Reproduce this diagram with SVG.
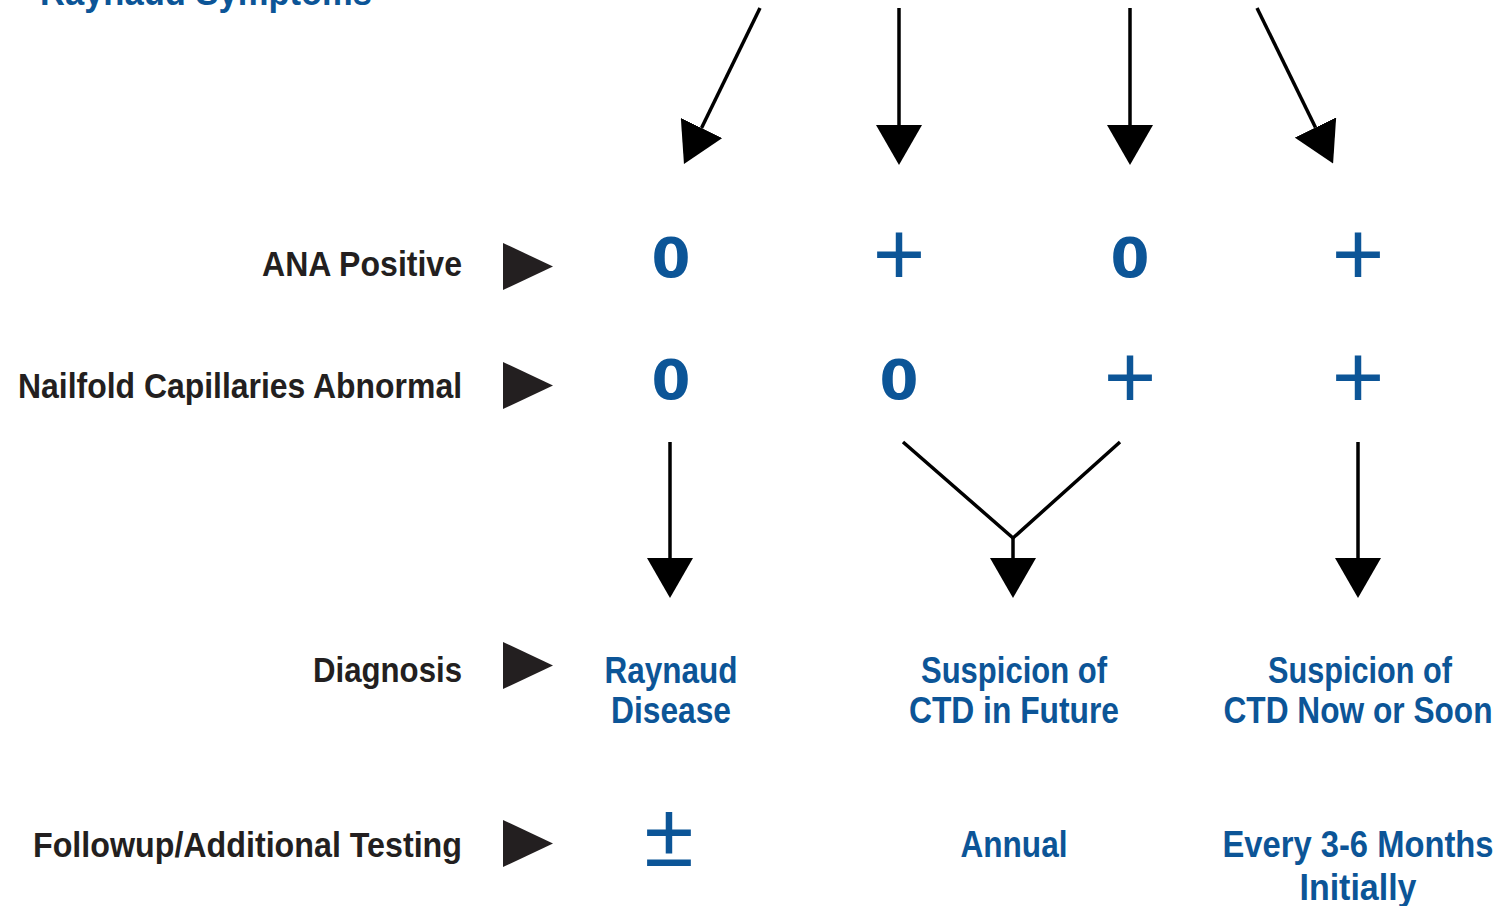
<svg xmlns="http://www.w3.org/2000/svg" width="1501" height="906" viewBox="0 0 1501 906">
<style>
.lbl{font-family:"Liberation Sans",Arial,sans-serif;font-weight:bold;font-size:35px;fill:#231f20;text-anchor:end}
.val{font-family:"Liberation Sans",Arial,sans-serif;font-weight:bold;font-size:36px;fill:#0c5597;text-anchor:middle}
.zero{font-family:"DejaVu Sans",sans-serif;font-weight:bold;font-size:56px;fill:#0c5597;text-anchor:middle}
.plus{font-family:"Liberation Sans",Arial,sans-serif;font-size:90px;fill:#0c5597;text-anchor:middle}
.conn{stroke:#000;stroke-width:3.5;fill:none}
</style>
<defs>
<marker id="ah" markerUnits="userSpaceOnUse" markerWidth="40" markerHeight="46" viewBox="0 0 40 46" refX="0" refY="23" orient="auto">
<path d="M0,0 L40,23 L0,46 Z" fill="#000"/>
</marker>
<polygon id="tri" points="0,0 50,23.5 0,47" fill="#231f20"/>
</defs>
<g id="title">
<text class="val" x="206" y="5" textLength="332" lengthAdjust="spacingAndGlyphs">Raynaud Symptoms</text>
</g>
<g id="connectors">
<line class="conn" x1="760" y1="8" x2="701.5" y2="128" marker-end="url(#ah)"/>
<line class="conn" x1="899" y1="8" x2="899" y2="125" marker-end="url(#ah)"/>
<line class="conn" x1="1130" y1="8" x2="1130" y2="125" marker-end="url(#ah)"/>
<line class="conn" x1="1257" y1="8" x2="1315.5" y2="127.5" marker-end="url(#ah)"/>
<line class="conn" x1="670" y1="442" x2="670" y2="558" marker-end="url(#ah)"/>
<polyline class="conn" points="903,442 1013,538 1120,442"/>
<line class="conn" x1="1013" y1="537" x2="1013" y2="558" marker-end="url(#ah)"/>
<line class="conn" x1="1358" y1="442" x2="1358" y2="558" marker-end="url(#ah)"/>
</g>
<g id="row-ana">
<text class="lbl" x="462" y="276" textLength="200" lengthAdjust="spacingAndGlyphs">ANA Positive</text>
<use href="#tri" x="503" y="243"/>
</g>
<g id="row-nailfold">
<text class="lbl" x="462" y="398" textLength="444" lengthAdjust="spacingAndGlyphs">Nailfold Capillaries Abnormal</text>
<use href="#tri" x="503" y="362"/>
</g>
<g id="row-diagnosis">
<text class="lbl" x="462" y="682" textLength="149" lengthAdjust="spacingAndGlyphs">Diagnosis</text>
<use href="#tri" x="503" y="642"/>
</g>
<g id="row-followup">
<text class="lbl" x="462" y="857" textLength="429" lengthAdjust="spacingAndGlyphs">Followup/Additional Testing</text>
<use href="#tri" x="503" y="820"/>
</g>
<g id="col1-values">
<text class="zero" x="671" y="277">0</text>
<text class="zero" x="671" y="399">0</text>
</g>
<g id="col2-values">
<text class="plus" x="899" y="285">+</text>
<text class="zero" x="899" y="399">0</text>
</g>
<g id="col3-values">
<text class="zero" x="1130" y="277">0</text>
<text class="plus" x="1130" y="408">+</text>
</g>
<g id="col4-values">
<text class="plus" x="1358" y="285">+</text>
<text class="plus" x="1358" y="408">+</text>
</g>
<g id="dx-raynaud">
<text class="val" x="671" y="683" textLength="133" lengthAdjust="spacingAndGlyphs">Raynaud</text>
<text class="val" x="671" y="723" textLength="120" lengthAdjust="spacingAndGlyphs">Disease</text>
</g>
<g id="dx-ctd-future">
<text class="val" x="1014" y="683" textLength="186" lengthAdjust="spacingAndGlyphs">Suspicion of</text>
<text class="val" x="1014" y="723" textLength="210" lengthAdjust="spacingAndGlyphs">CTD in Future</text>
</g>
<g id="dx-ctd-now">
<text class="val" x="1360" y="683" textLength="184" lengthAdjust="spacingAndGlyphs">Suspicion of</text>
<text class="val" x="1358" y="723" textLength="269" lengthAdjust="spacingAndGlyphs">CTD Now or Soon</text>
</g>
<g id="fu-plusminus">
<text class="plus" x="669" y="866" font-size="96">±</text>
</g>
<g id="fu-annual">
<text class="val" x="1014" y="857" textLength="107" lengthAdjust="spacingAndGlyphs">Annual</text>
</g>
<g id="fu-every">
<text class="val" x="1358" y="857" textLength="271" lengthAdjust="spacingAndGlyphs">Every 3-6 Months</text>
<text class="val" x="1358" y="900" textLength="117" lengthAdjust="spacingAndGlyphs">Initially</text>
</g>
</svg>
